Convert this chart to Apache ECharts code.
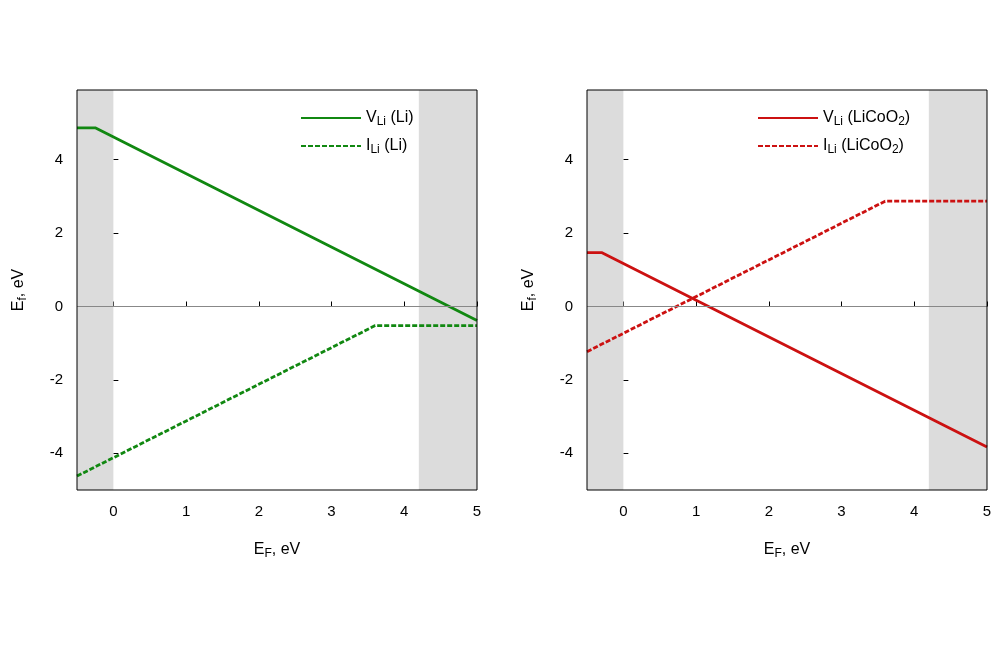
<!DOCTYPE html>
<html>
<head>
<meta charset="utf-8">
<script src="https://cdn.jsdelivr.net/npm/echarts@6/dist/echarts.min.js"></script>
<style>html,body{margin:0;background:#fff}#main{width:1000px;height:666px}</style>
</head>
<body>
<div id="main"></div>
<script>
const xTicks = [0, 1, 2, 3, 4, 5];
const yTicks = [-4, -2, 0, 2, 4];
// breakpoints [E_F, E_f]
const vLiLi = [[-0.5, 4.87], [-0.25, 4.87], [5, -0.38]];
const iLiLi = [[-0.5, -4.62], [3.6, -0.52], [5, -0.52]];
const vLiCo = [[-0.5, 1.47], [-0.3, 1.47], [5, -3.83]];
const iLiCo = [[-0.5, -1.23], [3.6, 2.87], [5, 2.87]];
const shaded = [[-0.5, 0], [4.2, 5]];

const myChart = echarts.init(document.getElementById("main"));
const font = "Liberation Sans";
const rich = {
  sub: { fontSize: 12, verticalAlign: "bottom", padding: [8, 0, 0, 0], fontFamily: font, color: "#000" },
  n: { fontSize: 16, fontFamily: font, color: "#000" }
};

function xAxis(i) {
  return {
    gridIndex: i, type: "value", min: -0.5, max: 5,
    name: "{n|E}{sub|F}{n|, eV}", nameLocation: "middle", nameGap: 50,
    nameTextStyle: { rich: rich },
    axisLine: { show: false },
    axisTick: { inside: true, customValues: xTicks, lineStyle: { color: "#000" } },
    axisLabel: { customValues: xTicks, fontSize: 15, fontFamily: font, color: "#000", margin: 14 },
    splitLine: { show: false }
  };
}
function yAxis(i) {
  return {
    gridIndex: i, type: "value", min: -5, max: 5.9,
    name: "{n|E}{sub|f}{n|, eV}", nameLocation: "middle", nameGap: 48,
    nameTextStyle: { rich: rich },
    axisLine: { show: false },
    axisTick: { inside: true, customValues: yTicks, lineStyle: { color: "#000" } },
    axisLabel: { customValues: yTicks, fontSize: 15, fontFamily: font, color: "#000", margin: 14 },
    splitLine: { show: false }
  };
}
function line(name, data, i, color, dashed, withShade) {
  const s = {
    name: name, type: "line", data: data, xAxisIndex: i, yAxisIndex: i,
    symbol: "none", lineStyle: { color: color, width: 2.8, type: dashed ? [5, 2] : "solid" },
    itemStyle: { color: color }, z: 3
  };
  if (withShade) {
    s.markArea = {
      silent: true, itemStyle: { color: "#dcdcdc" },
      data: shaded.map(r => [{ xAxis: r[0] }, { xAxis: r[1] }])
    };
    s.markLine = {
      silent: true, symbol: "none", label: { show: false },
      lineStyle: { color: "#888", width: 1, type: "solid" },
      data: [{ yAxis: 0 }]
    };
  }
  return s;
}
function legendFmt(name) {
  const m = name.match(/^(.)Li \((.*)\)$/);
  return "{n|" + m[1] + "}{sub|Li}{n| (}" + (m[2] === "LiCoO2" ? "{n|LiCoO}{sub|2}{n|)}" : "{n|Li)}");
}
const legendBase = {
  orient: "vertical", top: 105, itemGap: 10, itemWidth: 60, itemHeight: 14,
  formatter: legendFmt, textStyle: { rich: rich, color: "#000" }, selectedMode: false,
  itemStyle: { opacity: 0, borderWidth: 0 }
};

myChart.setOption({
  animation: false,
  grid: [
    { left: 77, top: 90, width: 400, height: 400 },
    { left: 587, top: 90, width: 400, height: 400 }
  ],
  graphic: [
    { type: "rect", shape: { x: 77, y: 90, width: 400, height: 400 }, style: { fill: "none", stroke: "#000", lineWidth: 1 }, z: 100 },
    { type: "rect", shape: { x: 587, y: 90, width: 400, height: 400 }, style: { fill: "none", stroke: "#000", lineWidth: 1 }, z: 100 }
  ],
  legend: [
    Object.assign({ data: ["VLi (Li)", "ILi (Li)"], left: 295 }, legendBase),
    Object.assign({ data: ["VLi (LiCoO2)", "ILi (LiCoO2)"], left: 752 }, legendBase)
  ],
  xAxis: [xAxis(0), xAxis(1)],
  yAxis: [yAxis(0), yAxis(1)],
  series: [
    line("VLi (Li)", vLiLi, 0, "#118811", false, true),
    line("ILi (Li)", iLiLi, 0, "#118811", true, false),
    line("VLi (LiCoO2)", vLiCo, 1, "#cc1111", false, true),
    line("ILi (LiCoO2)", iLiCo, 1, "#cc1111", true, false)
  ]
});
</script>
</body>
</html>
